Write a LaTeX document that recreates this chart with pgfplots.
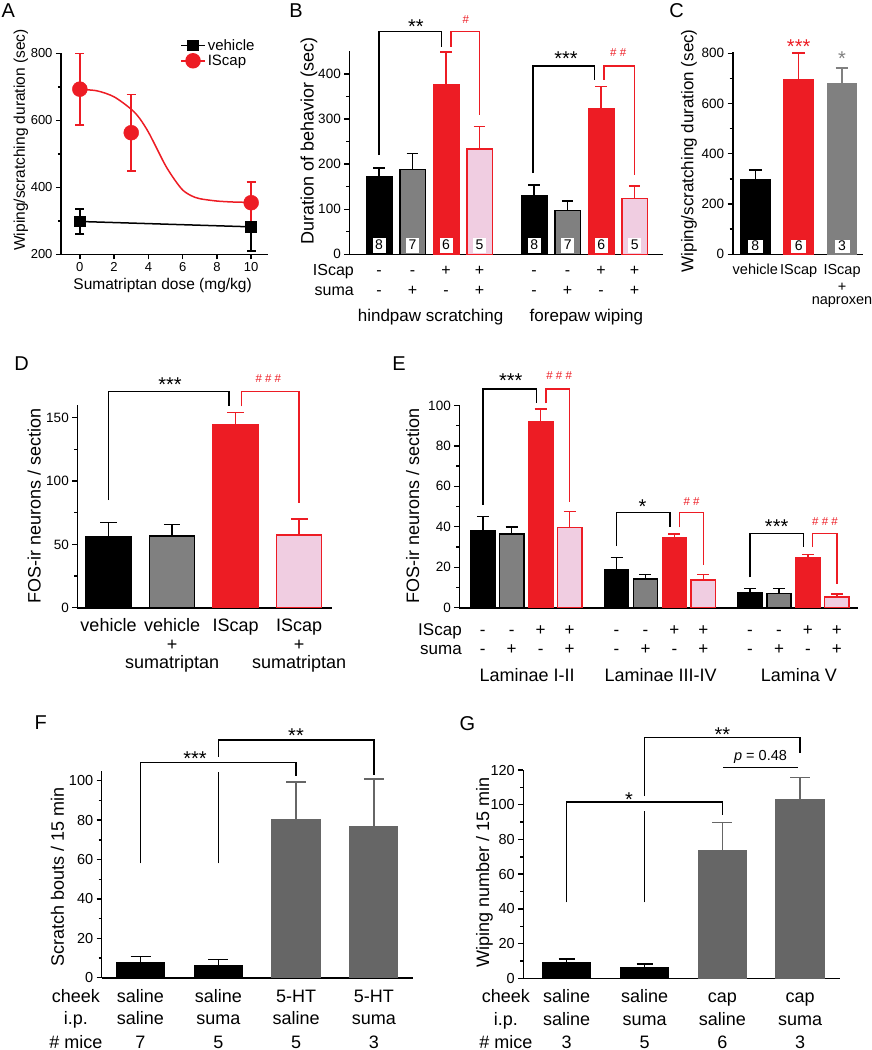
\documentclass[border=0pt]{standalone}
\usepackage{fontspec}
\setmainfont{Liberation Sans}
\usepackage{pgfplots}
\pgfplotsset{compat=1.18}
\definecolor{cred}{RGB}{237,28,36}
\definecolor{cpink}{RGB}{240,205,225}
\definecolor{cgray}{RGB}{128,128,128}
\definecolor{cdgray}{RGB}{102,102,102}
\newcommand{\fs}[2]{\fontsize{#1}{#2}\selectfont}
\tikzset{
  numbox/.style={fill=white, inner sep=0pt, minimum width=13pt, minimum height=15pt, font=\fs{14}{16}},
  txt/.style={anchor=base, inner sep=0pt, font=\fs{#1}{#1}},
  star/.style={anchor=base, inner sep=0pt, font=\fs{20}{20}},
  hash/.style={anchor=base, inner sep=0pt, font=\fs{11.5}{12}, text=cred},
  brk/.style={line width=1.5pt},
  letter/.style={font=\fs{20}{24}},
}
\pgfplotsset{
  /pgf/number format/assume math mode=true,
  prism/.style={
    scale only axis, clip=false,
    axis x line=bottom, axis y line=left,
    axis line style={-, line width=1.6pt},
    tick align=outside,
    major tick length=5pt, minor tick length=3pt,
    every tick/.append style={black, line width=1.4pt},
    yticklabel style={font=\fs{13.5}{15}},
    xticklabel style={font=\fs{13.5}{15}},
    label style={font=\fs{18}{21}},
    xtick=\empty,
  },
  barsty/.style n args={4}{ybar, bar shift=0pt, fill=#1, draw=#2, line width=1.5pt,
    error bars/y dir=plus, error bars/y explicit,
    error bars/error bar style={#3, line width=1.5pt},
    error bars/error mark options={rotate=90, #3, line width=1.5pt, mark size=#4}},
}
\begin{document}
\begin{tikzpicture}
\useasboundingbox (0,0) rectangle (872pt,-1050pt);
% panel letters
\node[letter] at (8.3pt,-10.3pt) {A};
\node[letter] at (296pt,-11pt) {B};
\node[letter] at (676.7pt,-11pt) {C};
\node[letter] at (21.7pt,-364pt) {D};
\node[letter] at (399pt,-364pt) {E};
\node[letter] at (40.8pt,-722.5pt) {F};
\node[letter] at (467.5pt,-723.3pt) {G};

% ---------------- A ----------------
\begin{axis}[prism, at={(61pt,-254.3pt)}, width=207.3pt, height=201pt,
  xmin=-1.1, xmax=11, ymin=200, ymax=800,
  xtick={0,2,4,6,8,10}, ytick={200,400,600,800}, minor ytick={300,500,700},
  yticklabel style={font=\fs{13}{14}}, xticklabel style={font=\fs{13}{14}},
  label style={font=\fs{15.5}{18}},
  xlabel={Sumatriptan dose (mg/kg)},
  ylabel={Wiping/scratching duration (sec)},
  xlabel style={at={(axis description cs:0.49,-0.153)}, anchor=center},
  ylabel style={at={(axis description cs:-0.194,0.569)}, anchor=center},
  legend style={draw=none, fill=none, font=\fs{15}{17}, at={(axis description cs:0.56,1.09)}, anchor=north west, row sep=-1pt},
  legend cell align=left,
  legend image code/.code={\draw[mark repeat=2,mark phase=2,#1] plot coordinates {(0pt,0pt) (12pt,0pt) (24pt,0pt)};},
]
\addplot[black, line width=1.5pt, mark=square*, mark size=5pt,
  error bars/y dir=both, error bars/y explicit,
  error bars/error bar style={line width=1.5pt},
  error bars/error mark options={rotate=90, mark size=4.5pt, line width=1.5pt}]
  coordinates {(0,298) +- (0,37) (10,282) +- (0,72)};
\addlegendentry{vehicle}
\addlegendimage{cred, line width=1.5pt, mark=*, mark size=7pt}
\addlegendentry{IScap}
\addplot[cred, line width=1.5pt, smooth, no markers, forget plot] coordinates {
 (0,692) (1,688) (2,670) (3,633) (3.5,605) (4,565) (4.5,515) (5,465) (5.5,425) (6,392) (6.5,375) (7,366) (8,359) (9,356) (10,355)};
\addplot[cred, only marks, mark=*, mark size=7.5pt, forget plot,
  error bars/y dir=both, error bars/y explicit,
  error bars/error bar style={cred, line width=1.5pt},
  error bars/error mark options={rotate=90, cred, mark size=4.5pt, line width=1.5pt}]
  coordinates {(0,693) +- (0,107) (3,563) +- (0,114) (10,354) +- (0,62)};
\end{axis}

% ---------------- B ----------------
\begin{axis}[prism, at={(349.3pt,-254.3pt)}, width=313.5pt, height=202.9pt,
  xmin=0.113, xmax=9.47, ymin=0, ymax=450,
  ytick={0,100,200,300,400}, minor ytick={50,150,250,350},
  bar width=25.5pt,
  ylabel={Duration of behavior (sec)},
  ylabel style={at={(axis description cs:-0.129,0.559)}, anchor=center},
]
\addplot[barsty={black}{black}{black}{5.8pt}] coordinates {(1,172) +- (0,19) (5.63,129) +- (0,25)};
\addplot[barsty={cgray}{black}{black}{5.8pt}] coordinates {(2,188.5) +- (0,35.5) (6.63,97) +- (0,21)};
\addplot[barsty={cred}{cred}{cred}{5.8pt}] coordinates {(3,375) +- (0,74) (7.63,323) +- (0,49)};
\addplot[barsty={cpink}{cred}{cred}{5.8pt}] coordinates {(4,233) +- (0,50) (8.63,123.5) +- (0,28)};
\node[numbox] at (axis cs:1,20.6) {8};
\node[numbox] at (axis cs:2,20.6) {7};
\node[numbox] at (axis cs:3,20.6) {6};
\node[numbox] at (axis cs:4,20.6) {5};
\node[numbox] at (axis cs:5.63,20.6) {8};
\node[numbox] at (axis cs:6.63,20.6) {7};
\node[numbox] at (axis cs:7.63,20.6) {6};
\node[numbox] at (axis cs:8.63,20.6) {5};
\draw[brk] (axis cs:1,220) |- (axis cs:2.87,494) -- (axis cs:2.87,460.5);
\draw[brk, cred] (axis cs:3.15,460.5) |- (axis cs:4,494) -- (axis cs:4,309);
\draw[brk] (axis cs:5.6,180) |- (axis cs:7.43,418) -- (axis cs:7.43,387);
\draw[brk, cred] (axis cs:7.72,387) |- (axis cs:8.63,418) -- (axis cs:8.63,176);
\node[star] at (axis cs:2.1,489.8) {**};
\node[hash] at (axis cs:3.59,510.9) {\#};
\node[star] at (axis cs:6.58,419.7) {***};
\node[hash] at (axis cs:8.14,438.3) {\# \#};
% rows
\node[txt=16, anchor=base east] at (axis cs:0.254,-47.5) {IScap};
\node[txt=16, anchor=base east] at (axis cs:0.254,-91.8) {suma};
\node[txt=16] at (axis cs:1,-47.5) {-};
\node[txt=16] at (axis cs:2,-47.5) {-};
\node[txt=16] at (axis cs:3,-47.5) {+};
\node[txt=16] at (axis cs:4,-47.5) {+};
\node[txt=16] at (axis cs:5.63,-47.5) {-};
\node[txt=16] at (axis cs:6.63,-47.5) {-};
\node[txt=16] at (axis cs:7.63,-47.5) {+};
\node[txt=16] at (axis cs:8.63,-47.5) {+};
\node[txt=16] at (axis cs:1,-91.8) {-};
\node[txt=16] at (axis cs:2,-91.8) {+};
\node[txt=16] at (axis cs:3,-91.8) {-};
\node[txt=16] at (axis cs:4,-91.8) {+};
\node[txt=16] at (axis cs:5.63,-91.8) {-};
\node[txt=16] at (axis cs:6.63,-91.8) {+};
\node[txt=16] at (axis cs:7.63,-91.8) {-};
\node[txt=16] at (axis cs:8.63,-91.8) {+};
\node[txt=17] at (axis cs:2.54,-149.5) {hindpaw scratching};
\node[txt=17] at (axis cs:7.19,-149.5) {forepaw wiping};
\end{axis}

% ---------------- C ----------------
\begin{axis}[prism, at={(732.7pt,-254.3pt)}, width=130.6pt, height=202.3pt,
  xmin=0.48, xmax=3.49, ymin=0, ymax=805,
  ytick={0,200,400,600,800}, minor ytick={100,300,500,700},
  bar width=29.3pt,
  label style={font=\fs{17}{20}},
  ylabel={Wiping/scratching duration (sec)},
  ylabel style={at={(axis description cs:-0.335,0.512)}, anchor=center},
]
\addplot[barsty={black}{black}{black}{6.3pt}] coordinates {(1,298.5) +- (0,37)};
\addplot[barsty={cred}{cred}{cred}{6.3pt}] coordinates {(2,696.5) +- (0,105.5)};
\addplot[barsty={cgray}{cgray}{cgray}{6.3pt}] coordinates {(3,678) +- (0,63.5)};
\node[numbox, minimum width=15pt, minimum height=13pt] at (axis cs:1,33) {8};
\node[numbox, minimum width=15pt, minimum height=13pt] at (axis cs:2,33) {6};
\node[numbox, minimum width=15pt, minimum height=13pt] at (axis cs:3,33) {3};
\node[star, text=cred] at (axis cs:2,799) {***};
\node[star, text=cgray] at (axis cs:3,750) {*};
\node[txt=14.5] at (axis cs:1,-82) {vehicle};
\node[txt=14.5] at (axis cs:2,-82) {IScap};
\node[txt=14.5] at (axis cs:3,-82) {IScap};
\node[txt=14.5] at (axis cs:3,-148) {+};
\node[txt=14.5] at (axis cs:3,-198) {naproxen};
\end{axis}

% ---------------- D ----------------
\begin{axis}[prism, at={(77.3pt,-607.7pt)}, width=254.4pt, height=202.7pt,
  xmin=0.509, xmax=4.511, ymin=0, ymax=160,
  ytick={0,50,100,150}, minor ytick={25,75,125},
  bar width=45pt,
  ylabel={FOS-ir neurons / section},
  ylabel style={at={(axis description cs:-0.169,0.504)}, anchor=center},
]
\addplot[barsty={black}{black}{black}{8.3pt}] coordinates {(1,56) +- (0,11.4)};
\addplot[barsty={cgray}{black}{black}{8.3pt}] coordinates {(2,56.8) +- (0,8.7)};
\addplot[barsty={cred}{cred}{cred}{8.3pt}] coordinates {(3,144.5) +- (0,9.5)};
\addplot[barsty={cpink}{cred}{cred}{8.3pt}] coordinates {(4,57.4) +- (0,12.6)};
\draw[brk] (axis cs:1,85) |- (axis cs:2.896,170.5) -- (axis cs:2.896,159);
\draw[brk, cred] (axis cs:3.095,159) |- (axis cs:4,170.5) -- (axis cs:4,83);
\node[star] at (axis cs:1.967,170.4) {***};
\node[hash] at (axis cs:3.514,178) {\# \# \#};
\node[txt=18] at (axis cs:1,-18.9) {vehicle};
\node[txt=18] at (axis cs:2,-18.9) {vehicle};
\node[txt=18] at (axis cs:2,-33.4) {+};
\node[txt=18] at (axis cs:2,-47.8) {sumatriptan};
\node[txt=18] at (axis cs:3,-18.9) {IScap};
\node[txt=18] at (axis cs:4,-18.9) {IScap};
\node[txt=18] at (axis cs:4,-33.4) {+};
\node[txt=18] at (axis cs:4,-47.8) {sumatriptan};
\end{axis}

% ---------------- E ----------------
\begin{axis}[prism, at={(459.3pt,-607.7pt)}, width=399pt, height=202.3pt,
  xmin=0.19, xmax=13.97, ymin=0, ymax=100,
  ytick={0,20,40,60,80,100}, minor ytick={10,30,50,70,90},
  bar width=24.3pt,
  ylabel={FOS-ir neurons / section},
  ylabel style={at={(axis description cs:-0.117,0.504)}, anchor=center},
]
\addplot[barsty={black}{black}{black}{6pt}] coordinates {(1,38.2) +- (0,6.8) (5.62,18.9) +- (0,5.8) (10.23,7.6) +- (0,1.8)};
\addplot[barsty={cgray}{black}{black}{6pt}] coordinates {(2,36.4) +- (0,3.6) (6.62,14.3) +- (0,2.2) (11.23,7.1) +- (0,2.3)};
\addplot[barsty={cred}{cred}{cred}{6pt}] coordinates {(3,91.8) +- (0,6.4) (7.62,34.8) +- (0,1.6) (12.23,24.5) +- (0,1.9)};
\addplot[barsty={cpink}{cred}{cred}{6pt}] coordinates {(4,39.7) +- (0,7.9) (8.62,13.8) +- (0,2.7) (13.23,5.4) +- (0,1.5)};
\draw[brk] (axis cs:1,50.8) |- (axis cs:2.86,108.1) -- (axis cs:2.86,101);
\draw[brk, cred] (axis cs:3.18,101) |- (axis cs:4,108.1) -- (axis cs:4,52.4);
\draw[brk] (axis cs:5.62,30.5) |- (axis cs:7.46,47) -- (axis cs:7.46,39.7);
\draw[brk, cred] (axis cs:7.79,39.7) |- (axis cs:8.62,47) -- (axis cs:8.62,21.1);
\draw[brk] (axis cs:10.23,15) |- (axis cs:12.07,36.8) -- (axis cs:12.07,29.9);
\draw[brk, cred] (axis cs:12.39,29.9) |- (axis cs:13.23,36.8) -- (axis cs:13.23,11.7);
\node[star] at (axis cs:1.97,108.7) {***};
\node[hash] at (axis cs:3.64,113) {\# \# \#};
\node[star] at (axis cs:6.52,46.6) {*};
\node[hash] at (axis cs:8.21,50.4) {\# \#};
\node[star] at (axis cs:11.15,36.7) {***};
\node[hash] at (axis cs:12.82,40.5) {\# \# \#};
\node[txt=17, anchor=base east] at (axis cs:0.28,-13.5) {IScap};
\node[txt=17, anchor=base east] at (axis cs:0.28,-23) {suma};
\node[txt=17] at (axis cs:1,-13.5) {-};
\node[txt=17] at (axis cs:2,-13.5) {-};
\node[txt=17] at (axis cs:3,-13.5) {+};
\node[txt=17] at (axis cs:4,-13.5) {+};
\node[txt=17] at (axis cs:5.62,-13.5) {-};
\node[txt=17] at (axis cs:6.62,-13.5) {-};
\node[txt=17] at (axis cs:7.62,-13.5) {+};
\node[txt=17] at (axis cs:8.62,-13.5) {+};
\node[txt=17] at (axis cs:10.23,-13.5) {-};
\node[txt=17] at (axis cs:11.23,-13.5) {-};
\node[txt=17] at (axis cs:12.23,-13.5) {+};
\node[txt=17] at (axis cs:13.23,-13.5) {+};
\node[txt=17] at (axis cs:1,-23) {-};
\node[txt=17] at (axis cs:2,-23) {+};
\node[txt=17] at (axis cs:3,-23) {-};
\node[txt=17] at (axis cs:4,-23) {+};
\node[txt=17] at (axis cs:5.62,-23) {-};
\node[txt=17] at (axis cs:6.62,-23) {+};
\node[txt=17] at (axis cs:7.62,-23) {-};
\node[txt=17] at (axis cs:8.62,-23) {+};
\node[txt=17] at (axis cs:10.23,-23) {-};
\node[txt=17] at (axis cs:11.23,-23) {+};
\node[txt=17] at (axis cs:12.23,-23) {-};
\node[txt=17] at (axis cs:13.23,-23) {+};
\node[txt=18] at (axis cs:2.53,-36.6) {Laminae I-II};
\node[txt=18] at (axis cs:7.14,-36.6) {Laminae III-IV};
\node[txt=18] at (axis cs:11.92,-36.6) {Lamina V};
\end{axis}

% ---------------- F ----------------
\begin{axis}[prism, at={(101.7pt,-977.7pt)}, width=311.6pt, height=206.8pt,
  xmin=0.501, xmax=4.508, ymin=0, ymax=105,
  ytick={0,20,40,60,80,100}, minor ytick={10,30,50,70,90},
  yticklabel style={font=\fs{14.5}{16}},
  bar width=47.7pt,
  ylabel={Scratch bouts / 15 min},
  ylabel style={at={(axis description cs:-0.142,0.485)}, anchor=center},
]
\addplot[barsty={black}{black}{black}{10pt}] coordinates {(1,7.6) +- (0,3.1) (2,5.9) +- (0,3.4)};
\addplot[barsty={cdgray}{cdgray}{cdgray}{10pt}] coordinates {(3,80.4) +- (0,18.9) (4,76.5) +- (0,24.5)};
\draw[brk] (axis cs:1,58) |- (axis cs:3,109.3) -- (axis cs:3,102.4);
\draw[brk] (axis cs:2,58) -- (axis cs:2,104.6);
\draw[brk] (axis cs:2,112.2) |- (axis cs:4,120.7) -- (axis cs:4,102.9);
\node[star] at (axis cs:1.70,107.9) {***};
\node[star] at (axis cs:3.0,119.3) {**};
\node[txt=18] at (axis cs:0.17,-12.7) {cheek};
\node[txt=18] at (axis cs:0.17,-24) {i.p.};
\node[txt=18] at (axis cs:0.17,-35.8) {\# mice};
\node[txt=18] at (axis cs:1,-12.7) {saline};
\node[txt=18] at (axis cs:1,-24) {saline};
\node[txt=18] at (axis cs:1,-35.8) {7};
\node[txt=18] at (axis cs:2,-12.7) {saline};
\node[txt=18] at (axis cs:2,-24) {suma};
\node[txt=18] at (axis cs:2,-35.8) {5};
\node[txt=18] at (axis cs:3,-12.7) {5-HT};
\node[txt=18] at (axis cs:3,-24) {saline};
\node[txt=18] at (axis cs:3,-35.8) {5};
\node[txt=18] at (axis cs:4,-12.7) {5-HT};
\node[txt=18] at (axis cs:4,-24) {suma};
\node[txt=18] at (axis cs:4,-35.8) {3};
\end{axis}

% ---------------- G ----------------
\begin{axis}[prism, at={(523.3pt,-978.3pt)}, width=316.7pt, height=208.3pt,
  xmin=0.442, xmax=4.511, ymin=0, ymax=120,
  ytick={0,20,40,60,80,100,120}, minor ytick={10,30,50,70,90,110},
  yticklabel style={font=\fs{14.5}{16}},
  bar width=48pt,
  ylabel={Wiping number / 15 min},
  ylabel style={at={(axis description cs:-0.123,0.508)}, anchor=center},
]
\addplot[barsty={black}{black}{black}{8pt}] coordinates {(1,9.0) +- (0,2.1) (2,6.0) +- (0,2.3)};
\addplot[barsty={cdgray}{cdgray}{cdgray}{10pt}] coordinates {(3,73.3) +- (0,16.4) (4,102.9) +- (0,12.9)};
\draw[brk] (axis cs:1,43.8) |- (axis cs:3,101.7) -- (axis cs:3,94.1);
\draw[brk] (axis cs:2,43.8) -- (axis cs:2,96.5);
\draw[brk] (axis cs:2,105) |- (axis cs:4,138.6) -- (axis cs:4,130);
\draw[brk] (axis cs:3.01,121.5) -- (axis cs:3.97,121.5);
\node[star] at (axis cs:1.80,98.8) {*};
\node[star] at (axis cs:3.0,136.2) {**};
\node[txt=14.5] at (axis cs:3.49,125.2) {\textit{p} = 0.48};
\node[txt=18] at (axis cs:0.218,-14.1) {cheek};
\node[txt=18] at (axis cs:0.218,-26.9) {i.p.};
\node[txt=18] at (axis cs:0.218,-40.3) {\# mice};
\node[txt=18] at (axis cs:1,-14.1) {saline};
\node[txt=18] at (axis cs:1,-26.9) {saline};
\node[txt=18] at (axis cs:1,-40.3) {3};
\node[txt=18] at (axis cs:2,-14.1) {saline};
\node[txt=18] at (axis cs:2,-26.9) {suma};
\node[txt=18] at (axis cs:2,-40.3) {5};
\node[txt=18] at (axis cs:3,-14.1) {cap};
\node[txt=18] at (axis cs:3,-26.9) {saline};
\node[txt=18] at (axis cs:3,-40.3) {6};
\node[txt=18] at (axis cs:4,-14.1) {cap};
\node[txt=18] at (axis cs:4,-26.9) {suma};
\node[txt=18] at (axis cs:4,-40.3) {3};
\end{axis}
\end{tikzpicture}
\end{document}
